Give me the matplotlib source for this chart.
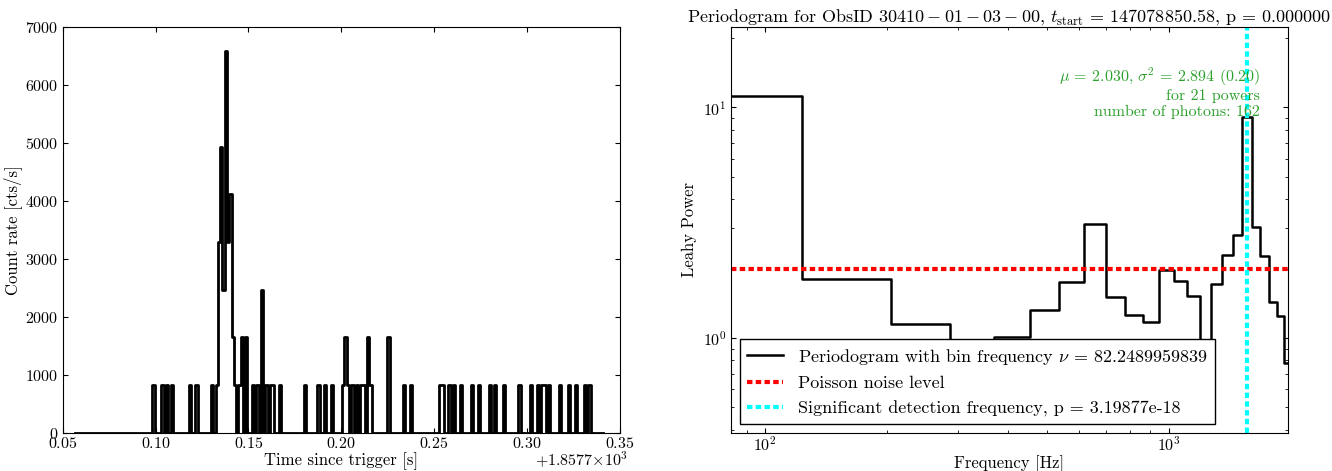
import numpy as np
import matplotlib
matplotlib.use("Agg")
import matplotlib.pyplot as plt
from matplotlib.ticker import ScalarFormatter, MultipleLocator

plt.rcParams['font.family'] = 'serif'
plt.rcParams['font.serif'] = ['cmr10']
plt.rcParams['mathtext.fontset'] = 'cm'
plt.rcParams['axes.unicode_minus'] = False
plt.rcParams['axes.formatter.use_mathtext'] = True
plt.rcParams['xtick.direction'] = 'in'
plt.rcParams['ytick.direction'] = 'in'
plt.rcParams['xtick.top'] = True
plt.rcParams['ytick.right'] = True
plt.rcParams['xtick.major.pad'] = 2
plt.rcParams['ytick.major.pad'] = 3
plt.rcParams['xtick.minor.pad'] = 2
plt.rcParams['ytick.minor.pad'] = 3

# light curve: counts per bin, bin width 1/822.49 s
lc_tstart = 1857.7558
lc_offset = 1857.7
lc_dt = 1.0 / 822.49
lc_counts = [0, 0, 0, 0, 0, 0, 0, 0, 0, 0, 0, 0, 0, 0, 0, 0, 0, 0, 0, 0,
             0, 0, 0, 0, 0, 0, 0, 0, 0, 0, 0, 0, 0, 0, 0,
             1, 0, 0, 0, 1, 0, 1, 0, 1, 0, 0, 0, 0, 0, 0, 0, 1, 0, 0, 1,
             0, 0, 0, 0, 0, 0, 1, 0, 1, 4, 6, 3, 8, 4, 5, 2, 1, 0, 1, 2,
             0, 2, 0, 0, 1, 0, 1, 0, 3, 0, 1, 0, 1, 1, 0, 0, 1, 0, 0, 0,
             0, 0, 0, 0, 0, 0, 0, 1, 0, 0, 0, 0, 0, 1, 0, 0, 1, 0, 0, 1,
             0, 0, 0, 0, 1, 2, 1, 0, 1, 0, 1, 0, 1, 1, 0, 2, 1, 0, 0, 0,
             0, 0, 0, 0, 2, 0, 0, 0, 0, 0, 0, 1, 0, 0, 1, 0, 0, 0, 0, 0,
             0, 0, 0, 0, 0, 0, 0, 1, 1, 0, 0, 1, 0, 1, 0, 0, 1, 0, 0, 0,
             0, 1, 0, 0, 1, 0, 0, 0, 0, 1, 0, 1, 0, 0, 0, 1, 0, 0, 0, 0,
             0, 0, 1, 0, 0, 0, 0, 1, 0, 0, 1, 0, 1, 1, 0, 1, 0, 0, 0, 0,
             1, 0, 0, 0, 1, 0, 0, 1, 0, 0, 0, 1, 0, 1, 0, 0, 0, 0, 0, 0]

# binned periodogram
bin_freq = 82.2489959839
powers = [11.19, 1.81, 1.153, 0.85, 1.007, 1.325, 1.743, 3.13, 1.512, 1.26,
          1.172, 1.977, 1.773, 1.517, 0.783, 1.709, 2.287, 2.806, 9.06, 3.04,
          2.27, 1.43, 1.244, 0.775]
noise_level = 2.0
detect_freq = 1560.0

fig = plt.figure(figsize=(13.32, 4.71), dpi=100)
ax1 = fig.add_axes([0.047, 0.081, 0.4185, 0.862])
ax2 = fig.add_axes([0.5486, 0.081, 0.4183, 0.862])

# --- light curve
t = lc_tstart + lc_dt * (np.arange(len(lc_counts)) + 0.5)
rate = np.array(lc_counts) / lc_dt
ax1.plot(t, rate, drawstyle='steps-mid', color='black', lw=2)
ax1.set_xlim(1857.75, 1858.05)
ax1.set_ylim(0, 7000)
ax1.xaxis.set_major_locator(MultipleLocator(0.05))
ax1.xaxis.set_major_formatter(ScalarFormatter(useOffset=lc_offset, useMathText=True))
ax1.xaxis.get_offset_text().set_visible(False)
ax1.text(1.014, -0.041, r"$+1.8577{\times}10^{3}$", transform=ax1.transAxes,
         ha='right', va='top', fontsize=11.5)
ax1.set_xlabel("Time since trigger [s]", fontsize=12, labelpad=1)
ax1.set_ylabel("Count rate [cts/s]", fontsize=12, labelpad=2)
ax1.tick_params(labelsize=11.5)

# --- periodogram
freq = bin_freq * np.arange(1, len(powers) + 1)
ax2.step(freq, powers, where='mid', color='black', lw=1.8,
         label=r"Periodogram with bin frequency $\nu$ = %s" % repr(bin_freq))
ax2.axhline(noise_level, color='red', lw=3, ls=(0, (1.3, 0.8)),
            label="Poisson noise level")
ax2.axvline(detect_freq, color='cyan', lw=3, ls=(0, (1.3, 0.8)),
            label="Significant detection frequency, p = 3.19877e-18")
ax2.set_xscale('log')
ax2.set_yscale('log')
ax2.set_xlim(freq[0], freq[-1])
ax2.set_ylim(min(powers) / 2.0, max(powers) * 2.0)
ax2.set_xlabel("Frequency [Hz]", fontsize=12, labelpad=1)
ax2.set_ylabel("Leahy Power", fontsize=12)
ax2.tick_params(which='both', labelsize=11.5)
ax2.set_title(r"Periodogram for ObsID $30410-01-03-00$, $t_{\rm start}$ = 147078850.58, p = 0.000000",
              fontsize=13, pad=4)
ax2.text(0.95, 0.905,
         "$\\mu$ = 2.030, $\\sigma^2$ = 2.894 (0.20)\nfor 21 powers\nnumber of photons: 162",
         transform=ax2.transAxes, ha='right', va='top', color='#2ca02c',
         fontsize=11.5, linespacing=1.15)
leg = ax2.legend(loc='lower left', fontsize=13, fancybox=False, framealpha=1)
leg.get_frame().set_edgecolor('black')

fig.savefig("out.png", dpi=100)
